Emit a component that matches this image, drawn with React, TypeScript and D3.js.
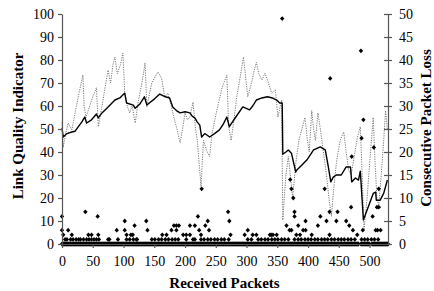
import { useEffect, useRef } from "react";
import * as d3 from "d3";

const W = 434;
const H = 291;
const FONT = "'Liberation Serif', 'Times New Roman', serif";

// axis ranges / ticks
const packetDomain = [0, 530];
const packetTicks = [0, 50, 100, 150, 200, 250, 300, 350, 400, 450, 500];
const lqiTicks = [0, 10, 20, 30, 40, 50, 60, 70, 80, 90, 100];
const lossTicks = [0, 5, 10, 15, 20, 25, 30, 35, 40, 45, 50];

// smoothed LQI (solid) — [packet, lqi]
const avgLqi: [number, number][] = [
  [0, 50.4], [2, 46.5], [8, 48], [16, 48.7], [21, 49], [32, 53], [37, 55.2], [40, 52.6],
  [48, 54], [56, 56.5], [59, 54.8], [65, 57], [75, 59.6], [86, 62.6], [94, 63.5], [102, 65.6],
  [105, 61.3], [116, 60.4], [119, 59], [127, 61], [134, 64], [138, 60.4], [143, 61.5],
  [150, 63], [159, 65.2], [168, 64], [175, 63.5], [180, 59.6], [186, 58], [192, 57],
  [200, 57.5], [208, 57], [212, 55.5], [216, 54.8], [220, 53], [224, 51.7], [227, 46.5],
  [232, 48], [235, 47.5], [240, 46.5], [248, 48], [256, 49.6], [262, 52], [268, 55.2],
  [272, 51], [282, 55], [294, 59.6], [305, 58.3], [310, 60], [316, 62.6], [325, 63.5],
  [334, 64], [342, 63.5], [349, 62.6], [354, 61.3], [358, 61.3], [359, 39], [364, 40],
  [368, 40.9], [373, 39.5], [380, 31.3], [381, 32], [390, 34.3], [398, 36.5], [409, 40.9],
  [420, 42.2], [423, 41.7], [428, 40.9], [433, 33.5], [437, 27], [441, 29.1], [446, 30],
  [454, 30], [462, 33.5], [469, 33.5], [471, 27], [477, 28.7], [482, 27.8], [485, 31.7],
  [490, 10.4], [506, 22], [510, 22.6], [511, 19], [517, 19], [523, 22], [529, 27.8],
];

// raw LQI (dotted) — [packet, lqi]
const rawLqi: [number, number][] = [
  [0, 53], [2, 42], [6, 48], [10, 52.6], [16, 49.6], [22, 58], [28, 66], [34, 73.5],
  [36, 60], [39, 55], [45, 60], [50, 64], [56, 68], [59, 51], [65, 60], [70, 68],
  [75, 75.6], [79, 70], [83, 78], [86, 81.3], [90, 74], [95, 78], [99, 83], [102, 65.6],
  [106, 60], [110, 57], [114, 60], [119, 52.6], [124, 62], [130, 70], [135, 78.7],
  [138, 59.6], [142, 65], [146, 70], [152, 73], [156, 74.8], [162, 72], [167, 64],
  [172, 65.6], [178, 59.6], [182, 55], [186, 51], [192, 44], [196, 50], [200, 57],
  [204, 54], [208, 55.2], [213, 61.7], [217, 50], [220, 45], [226, 25], [230, 45],
  [236, 40], [240, 38], [244, 48], [250, 56], [256, 63], [260, 67.8], [268, 73.5],
  [271, 51], [275, 45], [280, 55], [284, 64], [290, 73], [295, 81.3], [302, 64],
  [308, 70], [312, 75], [316, 79], [320, 74], [325, 71.3], [330, 74.3], [334, 71.3],
  [338, 68], [341, 65.6], [347, 67], [351, 55.2], [357, 62.6], [359, 10.4], [364, 30],
  [368, 38], [372, 28], [375, 20], [380, 35], [385, 45], [390, 50], [395, 55], [399, 45],
  [402, 40], [406, 58], [409, 50], [412, 45], [416, 57], [420, 50], [425, 40], [430, 30],
  [434, 20], [438, 12], [442, 25], [446, 35], [452, 45], [458, 48.7], [462, 40], [466, 32],
  [470, 30], [475, 38], [480, 46], [485, 51], [488, 30], [491, 6], [496, 20], [501, 38],
  [506, 55], [509, 35], [512, 20], [515, 17], [519, 30], [523, 45], [526, 58], [529, 50],
];

// consecutive packet loss (diamonds, right axis) — [packet, lost]
const lossPoints: [number, number][] = [
  [0, 6], [0, 3], [2, 2], [8, 1], [10, 3], [16, 2], [5, 1], [14, 1], [18, 1], [23, 1],
  [27, 1], [30, 1], [35, 1], [38, 7], [40, 1], [43, 2], [48, 2], [44, 1], [48, 1], [52, 1],
  [56, 1], [58, 6], [59, 2], [60, 1], [75, 1], [77, 1], [89, 3], [91, 1], [102, 5],
  [102, 3], [105, 2], [105, 1], [110, 1], [112, 2], [115, 2], [118, 4], [116, 1], [121, 1],
  [122, 1], [137, 5], [139, 3], [146, 1], [151, 1], [157, 1], [162, 1], [163, 2], [168, 1],
  [170, 2], [173, 1], [178, 3], [179, 1], [182, 4], [184, 1], [186, 4], [186, 3], [189, 1],
  [190, 4], [197, 2], [202, 2], [208, 2], [202, 1], [208, 4], [213, 1], [216, 4], [216, 1],
  [221, 6], [223, 3], [226, 2], [227, 12], [226, 1], [231, 1], [233, 4], [237, 5], [239, 3],
  [237, 1], [242, 1], [248, 1], [253, 1], [259, 1], [264, 1], [270, 7], [272, 5], [274, 2],
  [271, 1], [297, 2], [302, 3], [302, 1], [308, 1], [310, 2], [316, 2], [319, 1], [324, 1],
  [330, 1], [335, 1], [338, 2], [340, 2], [341, 1], [343, 2], [346, 1], [349, 2], [351, 1],
  [357, 1], [358, 49], [362, 1], [365, 4], [368, 1], [370, 3], [371, 14], [373, 12],
  [373, 3], [376, 10], [378, 7], [378, 6], [378, 1], [381, 2], [384, 4], [384, 1], [387, 2],
  [389, 1], [392, 3], [395, 1], [396, 5], [396, 3], [400, 1], [405, 1], [406, 2], [411, 1],
  [416, 4], [416, 1], [420, 6], [422, 1], [427, 12], [427, 1], [430, 5], [432, 1], [435, 7],
  [435, 2], [436, 36], [438, 1], [443, 1], [446, 5], [448, 7], [449, 1], [454, 1], [459, 1],
  [462, 5], [465, 1], [467, 4], [470, 8], [470, 1], [471, 19], [473, 3], [476, 1], [480, 2],
  [486, 42], [487, 23], [487, 1], [489, 3], [490, 27], [492, 1], [497, 1], [503, 1],
  [505, 6], [507, 21], [508, 1], [510, 3], [512, 8], [513, 3], [514, 1], [515, 8],
  [515, 12], [518, 3],
];

// packets with zero loss form the band along the bottom
const zeroLossRanges: [number, number][] = [[0, 482], [486, 500], [504, 530]];

export default function App() {
  const svgRef = useRef<SVGSVGElement>(null);

  useEffect(() => {
    const svg = d3.select(svgRef.current);
    svg.selectAll("*").remove();

    const x = d3.scaleLinear().domain(packetDomain).range([62, 388]);
    const yL = d3.scaleLinear().domain([0, 100]).range([244, 14]);
    const yR = d3.scaleLinear().domain([0, 50]).range([244, 14]);

    const line = d3
      .line<[number, number]>()
      .x((d) => x(d[0]))
      .y((d) => yL(d[1]));

    // raw LQI, dotted grey
    svg
      .append("path")
      .datum(rawLqi)
      .attr("d", line)
      .attr("fill", "none")
      .attr("stroke", "#6a6a6a")
      .attr("stroke-width", 0.9)
      .attr("stroke-dasharray", "1.2,1.2");

    // smoothed LQI, solid
    svg
      .append("path")
      .datum(avgLqi)
      .attr("d", line)
      .attr("fill", "none")
      .attr("stroke", "#000")
      .attr("stroke-width", 1.4)
      .attr("stroke-linejoin", "round");

    // diamonds
    const zeros: [number, number][] = [];
    zeroLossRanges.forEach(([a, b]) => {
      d3.range(a, b + 1).forEach((p) => zeros.push([p, 0]));
    });
    const diamond = "M0,-2.4L2.2,0L0,2.4L-2.2,0Z";
    svg
      .append("g")
      .selectAll("path")
      .data([...zeros, ...lossPoints])
      .enter()
      .append("path")
      .attr("d", diamond)
      .attr("transform", (d) => `translate(${x(d[0])},${yR(d[1])})`)
      .attr("fill", "#000");

    // axes
    const styleAxis = (g: d3.Selection<SVGGElement, unknown, null, undefined>) => {
      g.select(".domain").attr("stroke", "#555").attr("stroke-width", 1.2);
      g.selectAll(".tick line").attr("stroke", "#555").attr("stroke-width", 1.2);
      g.selectAll("text")
        .attr("font-family", FONT)
        .attr("font-size", "14px")
        .attr("fill", "#000");
    };

    const gx = svg
      .append("g")
      .attr("transform", "translate(0,244)")
      .call(
        d3.axisBottom(x).tickValues(packetTicks).tickSize(4).tickSizeOuter(0).tickPadding(8)
      );
    styleAxis(gx);

    const gl = svg
      .append("g")
      .attr("transform", "translate(62,0)")
      .call(d3.axisLeft(yL).tickValues(lqiTicks).tickSize(4).tickSizeOuter(0).tickPadding(4));
    styleAxis(gl);

    const gr = svg
      .append("g")
      .attr("transform", "translate(388,0)")
      .call(d3.axisRight(yR).tickValues(lossTicks).tickSize(4).tickSizeOuter(0).tickPadding(7));
    gr.selectAll(".tick line").attr("x1", -4);
    styleAxis(gr);

    // titles
    const title = (sel: d3.Selection<SVGTextElement, unknown, null, undefined>) =>
      sel
        .attr("font-family", FONT)
        .attr("font-size", "15px")
        .attr("font-weight", "bold")
        .attr("text-anchor", "middle")
        .attr("fill", "#000");

    svg.append("text").attr("x", 224.5).attr("y", 288).text("Received Packets").call(title);
    svg
      .append("text")
      .attr("transform", "translate(23,126) rotate(-90)")
      .text("Link Quality Indicator")
      .call(title);
    svg
      .append("text")
      .attr("transform", "translate(431,128) rotate(-90)")
      .text("Consecutive Packet Loss")
      .call(title);
  }, []);

  return (
    <svg
      ref={svgRef}
      width={W}
      height={H}
      style={{ position: "absolute", left: 0, top: 0, background: "#fff" }}
    />
  );
}
